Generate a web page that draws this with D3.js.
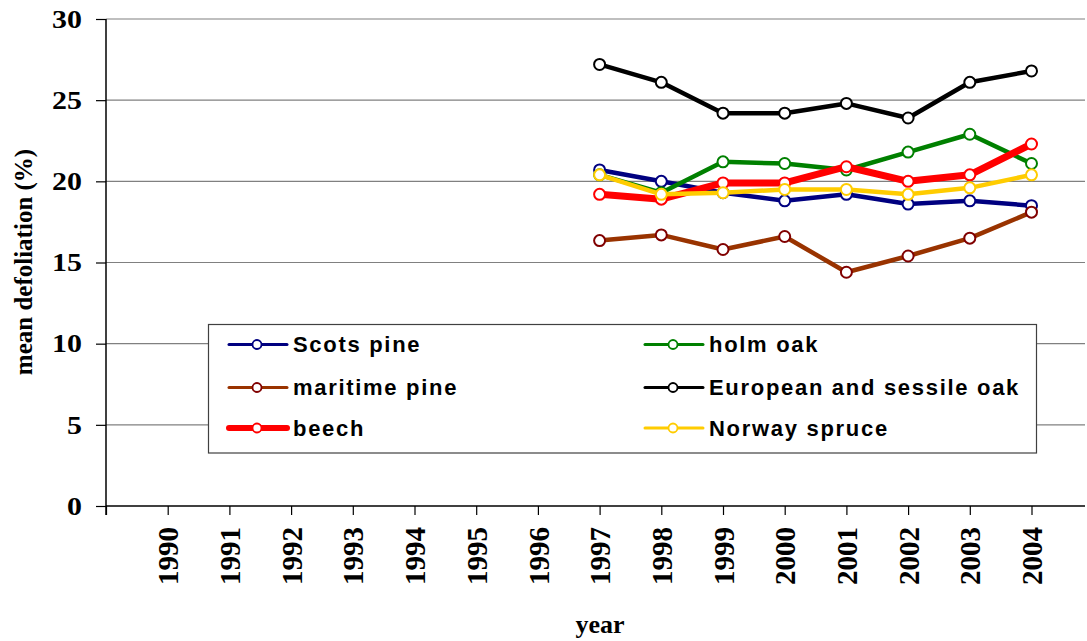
<!DOCTYPE html>
<html>
<head>
<meta charset="utf-8">
<script src="https://cdn.jsdelivr.net/npm/d3@7"></script>
<style>
  html, body { margin: 0; padding: 0; background: #fff; }
  svg { display: block; }
</style>
</head>
<body>
<svg id="chart" width="1087" height="641"></svg>
<script>
// ---- data ----
const years = [1990, 1991, 1992, 1993, 1994, 1995, 1996, 1997, 1998, 1999, 2000, 2001, 2002, 2003, 2004];
const dataYears = [1997, 1998, 1999, 2000, 2001, 2002, 2003, 2004];
const yTicks = [0, 5, 10, 15, 20, 25, 30];

const scotsPine    = [20.7, 20.0, 19.3, 18.8, 19.2, 18.6, 18.8, 18.5];
const holmOak      = [20.4, 19.3, 21.2, 21.1, 20.7, 21.8, 22.9, 21.1];
const maritimePine = [16.35, 16.7, 15.8, 16.6, 14.4, 15.4, 16.5, 18.1];
const europeanOak  = [27.2, 26.1, 24.2, 24.2, 24.8, 23.9, 26.1, 26.8];
const beech        = [19.2, 18.9, 19.9, 19.9, 20.9, 20.0, 20.4, 22.3];
const norwaySpruce = [20.4, 19.2, 19.3, 19.5, 19.5, 19.2, 19.6, 20.4];

const seriesNames = ["Scots pine", "holm oak", "maritime pine", "European and sessile oak", "beech", "Norway spruce"];
const seriesValues = [scotsPine, holmOak, maritimePine, europeanOak, beech, norwaySpruce];
const lineColors   = ["#000080", "#008000", "#993300", "#000000", "#FF0000", "#FFCC00"];
const markerColors = ["#000080", "#008000", "#800000", "#000000", "#FF0000", "#FFCC00"];
const lineWidths   = [4.5, 4.5, 4.5, 4.5, 7, 4.5];

const yTitle = "mean defoliation (%)";
const xTitle = "year";

// ---- layout ----
(function () {
const svg = d3.select("#chart");
const pLeft = 106, pRight = 1085, pTop = 19, pBottom = 506;

const x = d3.scaleLinear().domain([1989, 2004]).range([pLeft, 1031.5]);
const y = d3.scaleLinear().domain([0, 30]).range([pBottom, pTop]);

// gridlines
svg.append("g").selectAll("line").data(yTicks.filter(d => d > 0)).join("line")
  .attr("x1", pLeft).attr("x2", pRight)
  .attr("y1", d => y(d)).attr("y2", d => y(d))
  .attr("stroke", "#808080").attr("stroke-width", 1.2);

// y axis
const yAxis = d3.axisLeft(y).tickValues(yTicks).tickSize(10).tickPadding(11).tickFormat(d3.format("d"));
const gy = svg.append("g").attr("transform", `translate(${pLeft},0)`).call(yAxis);
gy.select(".domain").attr("stroke", "#000").attr("stroke-width", 1.5).attr("d", `M0,${pTop}V${pBottom + 9}`);
gy.selectAll(".tick line").attr("stroke", "#000").attr("stroke-width", 1.2);
gy.selectAll(".tick text")
  .attr("font-family", "'Liberation Serif', 'Times New Roman', serif")
  .attr("font-weight", "bold").attr("font-size", 26).attr("fill", "#000")
  .attr("transform", "scale(1.15,1)");

// x axis
const xAxis = d3.axisBottom(x).tickValues([1989].concat(years)).tickSize(9).tickPadding(10)
  .tickFormat(d => d === 1989 ? "" : String(d));
const gx = svg.append("g").attr("transform", `translate(0,${pBottom})`).call(xAxis);
gx.select(".domain").attr("stroke", "#000").attr("stroke-width", 1.5).attr("d", `M${pLeft},0H${pRight}`);
gx.selectAll(".tick line").attr("stroke", "#000").attr("stroke-width", 1.2);
gx.selectAll(".tick text")
  .attr("font-family", "'Liberation Serif', 'Times New Roman', serif")
  .attr("font-weight", "bold").attr("font-size", 29).attr("fill", "#000")
  .attr("text-anchor", "end")
  .attr("transform", "rotate(-90)")
  .attr("x", -21).attr("y", 0).attr("dy", "0.35em");

// axis titles
svg.append("text")
  .attr("transform", `translate(32,262) rotate(-90)`)
  .attr("text-anchor", "middle")
  .attr("font-family", "'Liberation Serif', 'Times New Roman', serif")
  .attr("font-weight", "bold").attr("font-size", 25)
  .text(yTitle);
svg.append("text")
  .attr("x", 600).attr("y", 633)
  .attr("text-anchor", "middle")
  .attr("font-family", "'Liberation Serif', 'Times New Roman', serif")
  .attr("font-weight", "bold").attr("font-size", 26)
  .text(xTitle);

// legend
const legend = svg.append("g");
legend.append("rect").attr("x", 208.5).attr("y", 324.5).attr("width", 828).attr("height", 128.5)
  .attr("fill", "#fff").attr("stroke", "#404040").attr("stroke-width", 1.2);
const legendPos = [
  {lx: 229, ly: 344.5}, {lx: 645, ly: 344.5},
  {lx: 229, ly: 387.5}, {lx: 645, ly: 387.5},
  {lx: 229, ly: 428},   {lx: 645, ly: 428}
];
seriesNames.forEach((name, i) => {
  const p = legendPos[i];
  const g = legend.append("g");
  g.append("line").attr("x1", p.lx).attr("x2", p.lx + 58).attr("y1", p.ly).attr("y2", p.ly)
    .attr("stroke", lineColors[i]).attr("stroke-width", i === 4 ? 6 : 3).attr("stroke-linecap", "round");
  g.append("circle").attr("cx", p.lx + 28).attr("cy", p.ly).attr("r", 4.5)
    .attr("fill", "#fff").attr("stroke", markerColors[i]).attr("stroke-width", 1.8);
  g.append("text").attr("x", p.lx + 64).attr("y", p.ly).attr("dy", "0.36em")
    .attr("font-family", "'Liberation Sans', Arial, sans-serif")
    .attr("font-weight", "bold").attr("font-size", 22).attr("letter-spacing", 1.7)
    .attr("fill", "#000")
    .text(name);
});

// series
const line = d3.line().x((d, i) => x(dataYears[i])).y(d => y(d));
seriesValues.forEach((vals, i) => {
  const g = svg.append("g");
  g.append("path").datum(vals).attr("d", line)
    .attr("fill", "none").attr("stroke", lineColors[i]).attr("stroke-width", lineWidths[i])
    .attr("stroke-linejoin", "round").attr("stroke-linecap", "round");
  g.selectAll("circle").data(vals).join("circle")
    .attr("cx", (d, j) => x(dataYears[j])).attr("cy", d => y(d)).attr("r", 5.5)
    .attr("fill", "#fff").attr("stroke", markerColors[i]).attr("stroke-width", 2);
});
})();
</script>
</body>
</html>
